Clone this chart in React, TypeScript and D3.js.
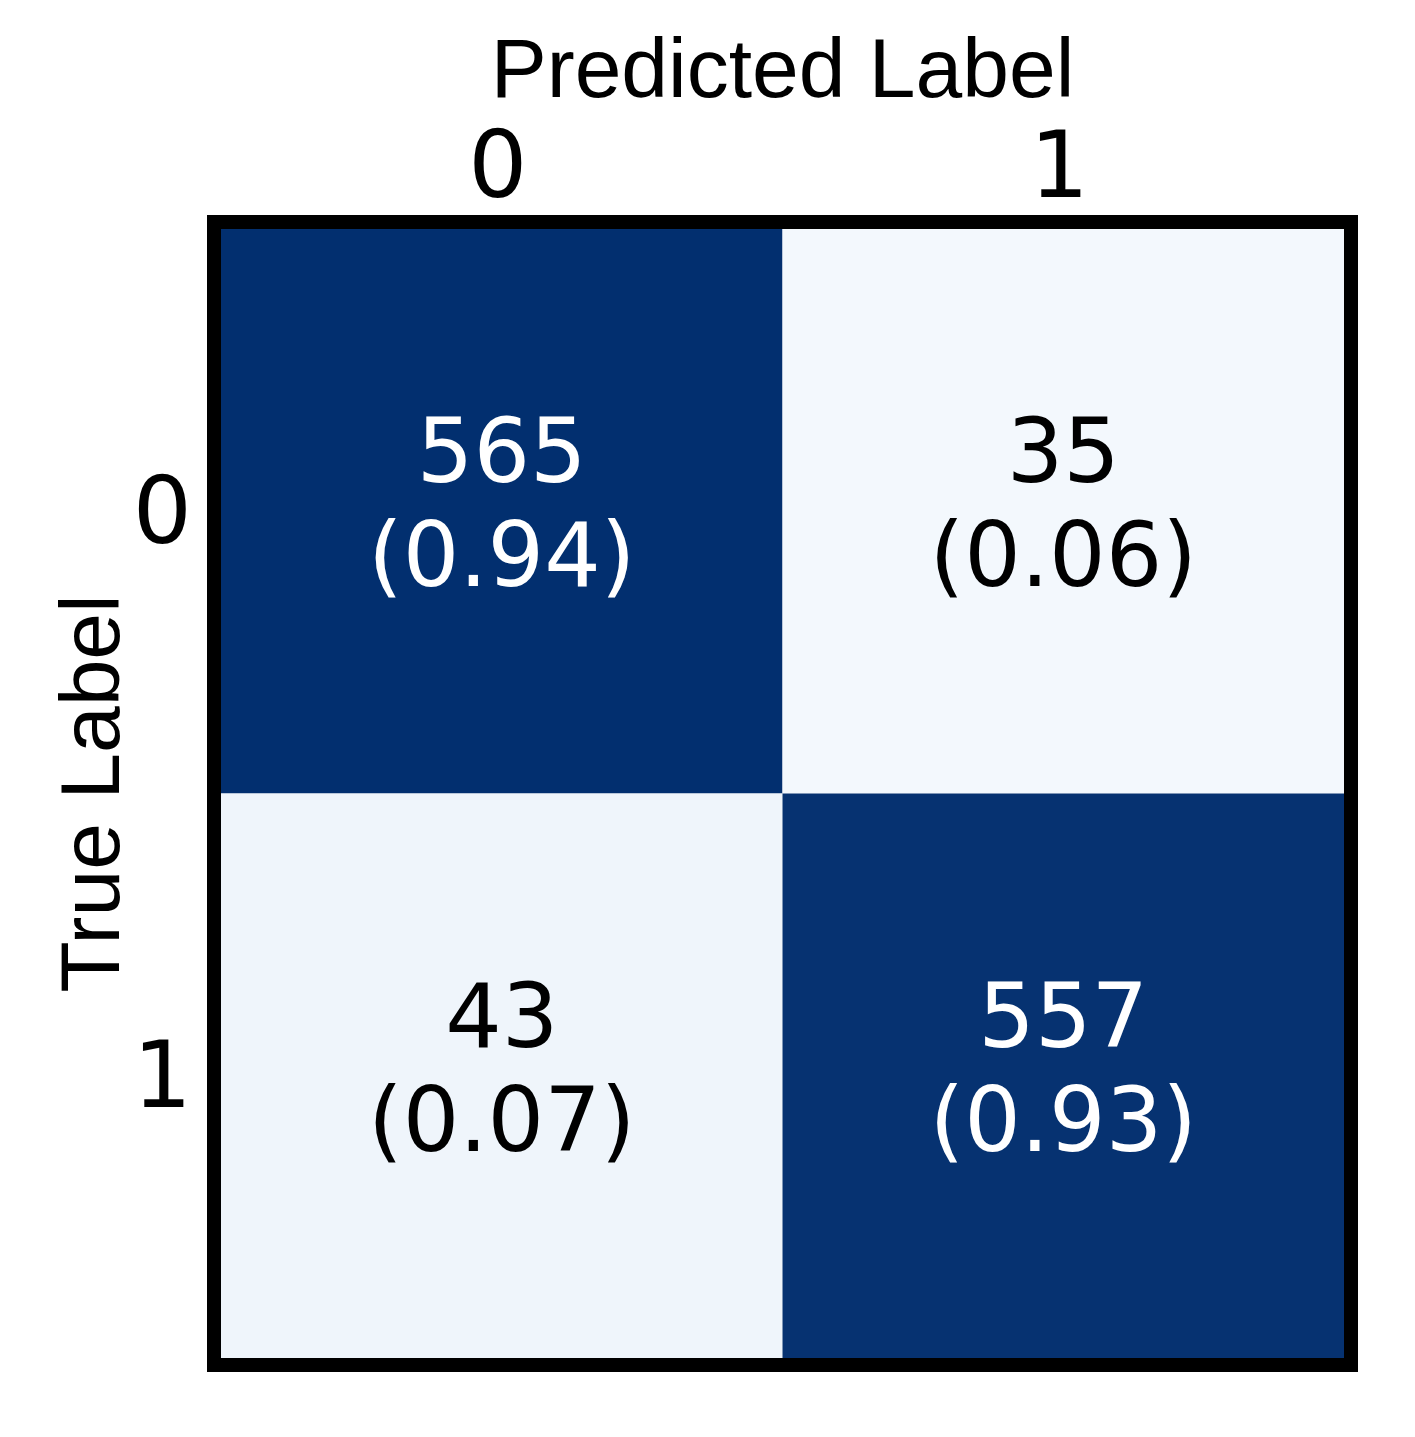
import * as d3 from "d3"

// Confusion matrix data
const classLabels = ["0", "1"]
const counts = [
  [565, 35],
  [43, 557],
]
const ratios = [
  [0.94, 0.06],
  [0.07, 0.93],
]
const xTitle = "Predicted Label"
const yTitle = "True Label"

const W = 1415
const H = 1437
const plot = { left: 221, right: 1344, top: 229, bottom: 1358 }

export default function App() {
  const x = d3.scaleBand<string>().domain(classLabels).range([plot.left, plot.right]).padding(0)
  const y = d3.scaleBand<string>().domain(classLabels).range([plot.top, plot.bottom]).padding(0)

  const flat = counts.flat()
  const color = d3
    .scaleSequential(d3.interpolateRgb("#f3f8fd", "#022f6f"))
    .domain([d3.min(flat) as number, d3.max(flat) as number])
  const thresh = ((d3.max(flat) as number) + (d3.min(flat) as number)) / 2

  const cells = classLabels.flatMap((row, i) =>
    classLabels.map((col, j) => ({ row, col, count: counts[i][j], ratio: ratios[i][j] })),
  )

  const numFont = "'DejaVu Sans', sans-serif"
  const titleFont = "'Liberation Sans', Arial, sans-serif"
  const midX = (plot.left + plot.right) / 2
  const midY = (plot.top + plot.bottom) / 2

  return (
    <svg
      width={W}
      height={H}
      viewBox={`0 0 ${W} ${H}`}
      style={{ position: "absolute", left: 0, top: 0, background: "#fff" }}
    >
      {/* клетки */}
      {cells.map((c) => {
        const cx = (x(c.col) as number) + x.bandwidth() / 2
        const cy = (y(c.row) as number) + y.bandwidth() / 2
        const fill = c.count > thresh ? "#ffffff" : "#000000"
        return (
          <g key={`${c.row}-${c.col}`}>
            <rect
              x={x(c.col)}
              y={y(c.row)}
              width={x.bandwidth()}
              height={y.bandwidth()}
              fill={color(c.count)}
            />
            <text x={cx} y={cy - 29} textAnchor="middle" fontFamily={numFont} fontSize={89} fill={fill}>
              {c.count}
            </text>
            <text x={cx} y={cy + 75} textAnchor="middle" fontFamily={numFont} fontSize={89} fill={fill}>
              {`(${c.ratio.toFixed(2)})`}
            </text>
          </g>
        )
      })}

      {/* рамка */}
      <rect
        x={plot.left - 7}
        y={plot.top - 7}
        width={plot.right - plot.left + 14}
        height={plot.bottom - plot.top + 14}
        fill="none"
        stroke="#000"
        strokeWidth={14}
      />

      {/* подписи делений сверху */}
      {classLabels.map((l) => (
        <text
          key={`xt-${l}`}
          x={(x(l) as number) + x.bandwidth() / 2 - 4}
          y={197}
          textAnchor="middle"
          fontFamily={numFont}
          fontSize={93}
          fill="#000"
        >
          {l}
        </text>
      ))}

      {/* подписи делений слева */}
      {classLabels.map((l) => (
        <text
          key={`yt-${l}`}
          x={192}
          y={(y(l) as number) + y.bandwidth() / 2 + 6}
          textAnchor="end"
          dominantBaseline="middle"
          fontFamily={numFont}
          fontSize={93}
          fill="#000"
        >
          {l}
        </text>
      ))}

      {/* заголовки осей */}
      <text x={midX} y={97} textAnchor="middle" fontFamily={titleFont} fontSize={84} fill="#000">
        {xTitle}
      </text>
      <text
        transform={`translate(119, ${midY}) rotate(-90)`}
        textAnchor="middle"
        fontFamily={titleFont}
        fontSize={84}
        fill="#000"
      >
        {yTitle}
      </text>
    </svg>
  )
}
